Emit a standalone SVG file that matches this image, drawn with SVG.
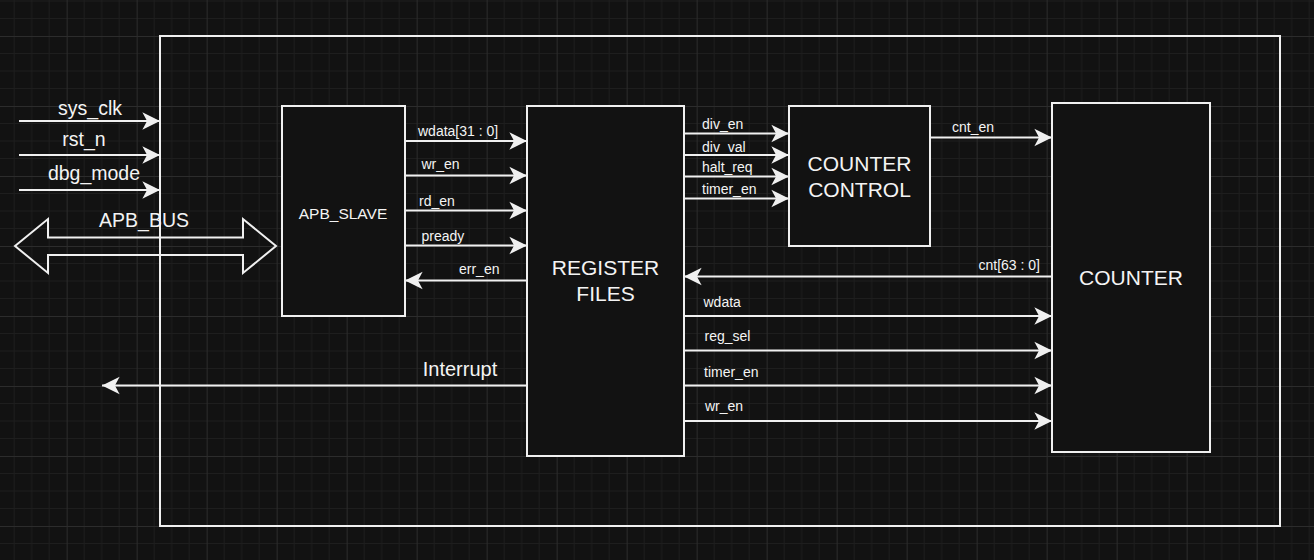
<svg xmlns="http://www.w3.org/2000/svg" width="1314" height="560" viewBox="0 0 1314 560">
<defs>
<pattern id="grid" patternUnits="userSpaceOnUse" x="66.67" y="36" width="70" height="70">
<path d="M17.5,0V70M35,0V70M52.5,0V70M0,17.5H70M0,35H70M0,52.5H70" stroke="#1e1e1e" stroke-width="1" fill="none"/>
<path d="M0.5,0V70M0,0.5H70" stroke="#2c2c2c" stroke-width="1" fill="none"/>
</pattern>
<marker id="arr" markerUnits="userSpaceOnUse" markerWidth="20" markerHeight="20" viewBox="-16 -8 17 16" refX="0" refY="0" orient="auto">
<path d="M0,0 L-15,-7.5 L-11,0 L-15,7.5 Z" fill="#f0f0f0"/>
</marker>
<style>
.blk{fill:#121212;stroke:#f0f0f0;stroke-width:2}
.ln{stroke:#f0f0f0;stroke-width:2;fill:none;marker-end:url(#arr)}
text{font-family:"Liberation Sans",Arial,sans-serif;fill:#f4f4f4}
.sig{font-size:14px}
.big{font-size:19.5px}
.ttl{font-size:21px;text-anchor:middle}
</style>
</defs>
<rect width="1314" height="560" fill="#121212"/>
<rect width="1314" height="560" fill="url(#grid)"/>

<g id="top">
<rect x="160" y="36" width="1120" height="490" fill="none" stroke="#f0f0f0" stroke-width="2"/>
</g>

<g id="apb_slave">
<rect class="blk" x="282" y="106" width="123" height="210"/>
<text x="343" y="218.5" font-size="15.5" text-anchor="middle">APB_SLAVE</text>
</g>

<g id="register_files">
<rect class="blk" x="527" y="106" width="157" height="350"/>
<text class="ttl" x="605.5" y="275">REGISTER</text>
<text class="ttl" x="605.5" y="301">FILES</text>
</g>

<g id="counter_control">
<rect class="blk" x="789" y="106" width="141" height="140"/>
<text class="ttl" x="859.5" y="171">COUNTER</text>
<text class="ttl" x="859.5" y="197">CONTROL</text>
</g>

<g id="counter">
<rect class="blk" x="1052" y="103" width="158" height="349"/>
<text class="ttl" x="1131" y="284.5">COUNTER</text>
</g>

<g id="connectors">
<path class="ln" d="M19,121H160"/>
<path class="ln" d="M19,155H160"/>
<path class="ln" d="M19,190H160"/>
<polygon points="15,246 48,219 48,237.5 243,237.5 243,219 276,246 243,273 243,255 48,255 48,273" fill="none" stroke="#f0f0f0" stroke-width="2"/>

<path class="ln" d="M405,141H527"/>
<path class="ln" d="M405,175.5H527"/>
<path class="ln" d="M405,210.5H527"/>
<path class="ln" d="M405,245.5H527"/>
<path class="ln" d="M527,280.5H405"/>

<path class="ln" d="M684,133.5H789"/>
<path class="ln" d="M684,155H789"/>
<path class="ln" d="M684,176.5H789"/>
<path class="ln" d="M684,198.5H789"/>

<path class="ln" d="M930,137.5H1052"/>
<path class="ln" d="M1052,276.5H684"/>

<path class="ln" d="M684,316H1052"/>
<path class="ln" d="M684,350.5H1052"/>
<path class="ln" d="M684,385.5H1052"/>
<path class="ln" d="M684,421H1052"/>

<path class="ln" d="M527,385.5H102"/>
</g>

<g id="labels">
<text class="big" x="90" y="115" text-anchor="middle">sys_clk</text>
<text class="big" x="84" y="146" text-anchor="middle">rst_n</text>
<text class="big" x="94" y="180" text-anchor="middle">dbg_mode</text>
<text class="big" x="144" y="226.5" text-anchor="middle">APB_BUS</text>

<text class="sig" x="418" y="136">wdata[31 : 0]</text>
<text class="sig" x="421.5" y="169">wr_en</text>
<text class="sig" x="419" y="205.5">rd_en</text>
<text class="sig" x="421.5" y="241">pready</text>
<text class="sig" x="459" y="274">err_en</text>

<text class="sig" x="702" y="128.5">div_en</text>
<text class="sig" x="702" y="151.5">div_val</text>
<text class="sig" x="702" y="171.5">halt_req</text>
<text class="sig" x="702" y="194">timer_en</text>

<text class="sig" x="952" y="131.5">cnt_en</text>
<text class="sig" x="1040" y="269.5" text-anchor="end">cnt[63 : 0]</text>

<text class="sig" x="703.5" y="306.5">wdata</text>
<text class="sig" x="704.5" y="341">reg_sel</text>
<text class="sig" x="704" y="376.5">timer_en</text>
<text class="sig" x="705" y="411">wr_en</text>

<text x="460" y="376" font-size="20" text-anchor="middle">Interrupt</text>
</g>
</svg>
